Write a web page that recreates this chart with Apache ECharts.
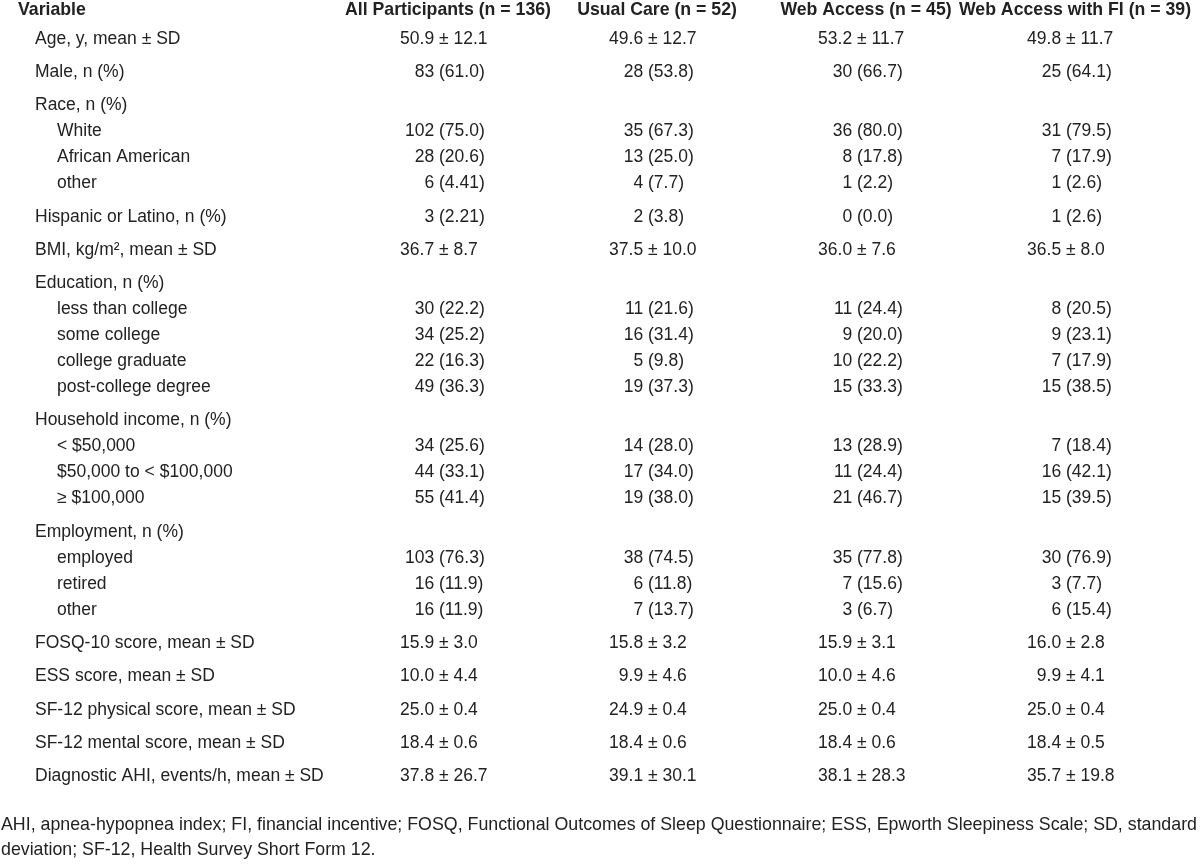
<!DOCTYPE html>
<html>
<head>
<meta charset="utf-8">
<script src="https://cdn.jsdelivr.net/npm/echarts@6/dist/echarts.min.js"></script>
<style>
  html, body { margin: 0; padding: 0; background: #ffffff; }
  #chart { width: 1200px; height: 864px; }
</style>
</head>
<body>
<div id="chart"></div>
<script>
// ---------------- DATA ----------------
const variableHeader = 'Variable';
const columnHeaders = [
  'All Participants (n = 136)',
  'Usual Care (n = 52)',
  'Web Access (n = 45)',
  'Web Access with FI (n = 39)'
];
const variables = [
  'Age, y, mean ± SD',
  'Male, n (%)',
  'Race, n (%)',
  'White',
  'African American',
  'other',
  'Hispanic or Latino, n (%)',
  'BMI, kg/m², mean ± SD',
  'Education, n (%)',
  'less than college',
  'some college',
  'college graduate',
  'post-college degree',
  'Household income, n (%)',
  '< $50,000',
  '$50,000 to < $100,000',
  '≥ $100,000',
  'Employment, n (%)',
  'employed',
  'retired',
  'other',
  'FOSQ-10 score, mean ± SD',
  'ESS score, mean ± SD',
  'SF-12 physical score, mean ± SD',
  'SF-12 mental score, mean ± SD',
  'Diagnostic AHI, events/h, mean ± SD'
];
// 0 = variable row, 1 = sub-category row
const variableLevels = [0,0,0,1,1,1,0,0,0,1,1,1,1,0,1,1,1,0,1,1,1,0,0,0,0,0];

const allParticipants = ['50.9 ± 12.1','83 (61.0)',null,'102 (75.0)','28 (20.6)','6 (4.41)','3 (2.21)','36.7 ± 8.7',null,'30 (22.2)','34 (25.2)','22 (16.3)','49 (36.3)',null,'34 (25.6)','44 (33.1)','55 (41.4)',null,'103 (76.3)','16 (11.9)','16 (11.9)','15.9 ± 3.0','10.0 ± 4.4','25.0 ± 0.4','18.4 ± 0.6','37.8 ± 26.7'];
const usualCare = ['49.6 ± 12.7','28 (53.8)',null,'35 (67.3)','13 (25.0)','4 (7.7)','2 (3.8)','37.5 ± 10.0',null,'11 (21.6)','16 (31.4)','5 (9.8)','19 (37.3)',null,'14 (28.0)','17 (34.0)','19 (38.0)',null,'38 (74.5)','6 (11.8)','7 (13.7)','15.8 ± 3.2','9.9 ± 4.6','24.9 ± 0.4','18.4 ± 0.6','39.1 ± 30.1'];
const webAccess = ['53.2 ± 11.7','30 (66.7)',null,'36 (80.0)','8 (17.8)','1 (2.2)','0 (0.0)','36.0 ± 7.6',null,'11 (24.4)','9 (20.0)','10 (22.2)','15 (33.3)',null,'13 (28.9)','11 (24.4)','21 (46.7)',null,'35 (77.8)','7 (15.6)','3 (6.7)','15.9 ± 3.1','10.0 ± 4.6','25.0 ± 0.4','18.4 ± 0.6','38.1 ± 28.3'];
const webAccessFI = ['49.8 ± 11.7','25 (64.1)',null,'31 (79.5)','7 (17.9)','1 (2.6)','1 (2.6)','36.5 ± 8.0',null,'8 (20.5)','9 (23.1)','7 (17.9)','15 (38.5)',null,'7 (18.4)','16 (42.1)','15 (39.5)',null,'30 (76.9)','3 (7.7)','6 (15.4)','16.0 ± 2.8','9.9 ± 4.1','25.0 ± 0.4','18.4 ± 0.5','35.7 ± 19.8'];

const footnoteLines = [
  'AHI, apnea-hypopnea index; FI, financial incentive; FOSQ, Functional Outcomes of Sleep Questionnaire; ESS, Epworth Sleepiness Scale; SD, standard',
  'deviation; SF-12, Health Survey Short Form 12.'
];

// ---------------- LAYOUT / STYLE ----------------
const FONT = "'Liberation Sans', Arial, Helvetica, sans-serif";
const FS = 17.5;
const FS_HEAD = 17.7;
const FS_NOTE = 17.8;
const INK = '#222222';
const HEADER_STEP = 1.115, GROUP_STEP = 1.28, SUB_STEP = 1;
const INDENTS = [17, 39];
const ANCHOR_SHIFT = -9;   // alignment point relative to column centre
const SPLIT_GAP = 0.278 * FS; // width of the space between count and (%)

// row positions in "row units" on the y value axis
const rowPos = [];
(function () {
  let p = 0;
  variables.forEach(function (v, i) {
    p += i === 0 ? HEADER_STEP : (variableLevels[i] ? SUB_STEP : GROUP_STEP);
    rowPos.push(p);
  });
})();

const columns = [allParticipants, usualCare, webAccess, webAccessFI];

function textEl(text, x, y, align, bold) {
  return {
    type: 'text',
    style: {
      text: text, x: x, y: y,
      align: align, verticalAlign: 'middle',
      fill: INK,
      fontFamily: FONT, fontSize: bold ? FS_HEAD : FS,
      fontWeight: bold ? 'bold' : 'normal'
    }
  };
}

// label column series
const labelTexts = [variableHeader].concat(variables);
const labelLevels = [-1].concat(variableLevels);
const labelData = [[0, 0]].concat(rowPos.map(function (p) { return [0, p]; }));

const labelSeries = {
  type: 'custom',
  name: variableHeader,
  xAxisIndex: 0, yAxisIndex: 0,
  coordinateSystem: 'cartesian2d',
  silent: true,
  data: labelData,
  renderItem: function (params, api) {
    const i = params.dataIndex;
    const pt = api.coord([api.value(0), api.value(1)]);
    const lvl = labelLevels[i];
    const indent = lvl < 0 ? 0 : INDENTS[lvl];
    return textEl(labelTexts[i], pt[0] + indent, pt[1], 'left', lvl < 0);
  }
};

// value column series
const valueSeries = columns.map(function (col, j) {
  const texts = [columnHeaders[j]];
  const data = [[j, 0]];
  col.forEach(function (v, i) {
    if (v !== null) { texts.push(v); data.push([j, rowPos[i]]); }
  });
  return {
    type: 'custom',
    name: columnHeaders[j],
    xAxisIndex: 1, yAxisIndex: 1,
    coordinateSystem: 'cartesian2d',
    silent: true,
    data: data,
    renderItem: function (params, api) {
      const i = params.dataIndex;
      const pt = api.coord([api.value(0), api.value(1)]);
      const t = texts[i];
      if (i === 0) return textEl(t, pt[0], pt[1], 'center', true);
      let k = t.indexOf(' (');
      if (k < 0) k = t.indexOf(' ± ');
      const anchor = pt[0] + ANCHOR_SHIFT;
      return {
        type: 'group',
        children: [
          textEl(t.slice(0, k), anchor - SPLIT_GAP, pt[1], 'right', false),
          textEl(t.slice(k + 1), anchor, pt[1], 'left', false)
        ]
      };
    }
  };
});

const chart = echarts.init(document.getElementById('chart'), null, { renderer: 'canvas' });
chart.setOption({
  backgroundColor: '#ffffff',
  animation: false,
  title: {
    text: footnoteLines.join('\n'),
    left: 1, top: 813, padding: 0,
    textStyle: { fontFamily: FONT, fontSize: FS_NOTE, fontWeight: 'normal', color: INK, lineHeight: 25 }
  },
  grid: [
    { left: 18, top: 10, width: 320, height: 780 },
    { left: 343.5, top: 10, width: 836, height: 780 }
  ],
  xAxis: [
    { type: 'value', gridIndex: 0, min: 0, max: 1, show: false },
    { type: 'category', gridIndex: 1, data: columnHeaders, show: false }
  ],
  yAxis: [
    { type: 'value', gridIndex: 0, min: 0, max: 30, inverse: true, show: false },
    { type: 'value', gridIndex: 1, min: 0, max: 30, inverse: true, show: false }
  ],
  series: [labelSeries].concat(valueSeries)
});
</script>
</body>
</html>
